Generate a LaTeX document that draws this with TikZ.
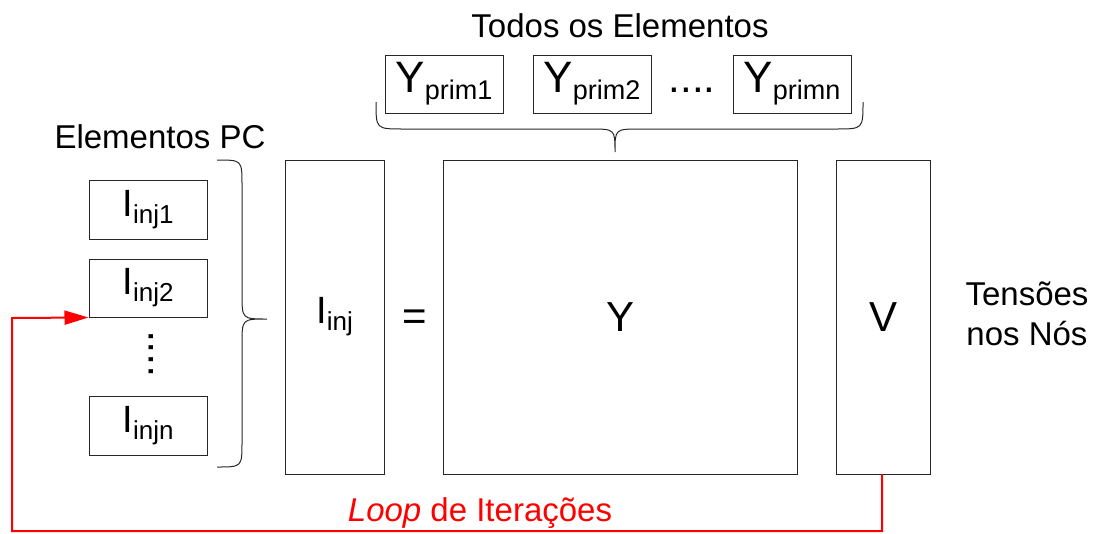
\documentclass[tikz,border=0pt]{standalone}
\usepackage{fontspec}
\setmainfont{Liberation Sans}
\usetikzlibrary{arrows.meta}
\newcommand{\subtxt}[4]{{\fontsize{#3}{#3}\selectfont #1}\raisebox{-7pt}{\fontsize{#4}{#4}\selectfont #2}}
\begin{document}
\begin{tikzpicture}[x=1pt,y=-1pt,
  box/.style={draw=black!85,line width=1pt,inner sep=0pt},
  lbl/.style={font=\fontsize{33}{38}\selectfont,align=center,inner sep=0pt},
  big/.style={font=\fontsize{42}{44}\selectfont,inner sep=0pt},
  loopline/.style={draw=red,line width=2pt}]
\useasboundingbox (0,0) rectangle (1097,533);
% top elements
\node[lbl] (todos) at (620,26) {Todos os Elementos};
\node[box,minimum width=118pt,minimum height=58pt] (yp1) at (444,84) {};
\node at (yp1.center) {\subtxt{Y}{prim1}{44}{27}};
\node[box,minimum width=118pt,minimum height=58pt] (yp2) at (592,84) {};
\node at (yp2.center) {\subtxt{Y}{prim2}{44}{27}};
\node[big] (ydots) at (692,90) {....};
\node[box,minimum width=118pt,minimum height=58pt] (ypn) at (792,84) {};
\node at (ypn.center) {\subtxt{Y}{primn}{44}{27}};
\draw[line width=1pt,black!85] (376,102) .. controls (376,129) .. (403,129) -- (590,129) .. controls (615,129) .. (615,152) .. controls (615,129) .. (640,129) -- (836,129) .. controls (863,129) .. (863,102);
% left elements
\node[lbl] (pc) at (160,137) {Elementos PC};
\node[box,minimum width=118pt,minimum height=59pt] (i1) at (148,209.5) {};
\node at (i1.center) {\subtxt{I}{inj1}{38}{26}};
\node[box,minimum width=118pt,minimum height=58pt] (i2) at (148,288) {};
\node at (i2.center) {\subtxt{I}{inj2}{38}{26}};
\node[big] (idots) at (151,354) {\rotatebox{90}{....}};
\node[box,minimum width=118pt,minimum height=59pt] (in) at (148,425.5) {};
\node at (in.center) {\subtxt{I}{injn}{38}{26}};
\draw[line width=1pt,black!85] (217,160) .. controls (242,160) .. (242,185) -- (242,294) .. controls (242,319) .. (267,319) .. controls (242,319) .. (242,344) -- (242,442) .. controls (242,467) .. (217,467);
% equation
\node[box,minimum width=99pt,minimum height=314pt] (iinj) at (334.5,317) {};
\node at (iinj.center) {\subtxt{I}{inj}{38}{26}};
\node[big] (eq) at (415,320) {=};
\node[box,minimum width=354pt,minimum height=314pt] (ybox) at (620,317) {};
\node[big] at (ybox.center) {Y};
\node[box,minimum width=94pt,minimum height=314pt] (vbox) at (883,317) {};
\node[big] at (vbox.center) {V};
\node[lbl] (tens) at (1027,314) {Tensões\\[2pt]nos Nós};
% loop
\coordinate (c1) at (882,531);
\coordinate (c2) at (12,531);
\coordinate (c3) at (12,318);
\draw[loopline,-{Triangle[length=24pt,width=14pt]}] (882,474) -- (c1) -- (c2) -- (c3) -- (i2.south west);
\node[lbl,text=red,fill=white,inner sep=1pt] (looplbl) at (480,513) {\textit{Loop} de Iterações};
\end{tikzpicture}
\end{document}
